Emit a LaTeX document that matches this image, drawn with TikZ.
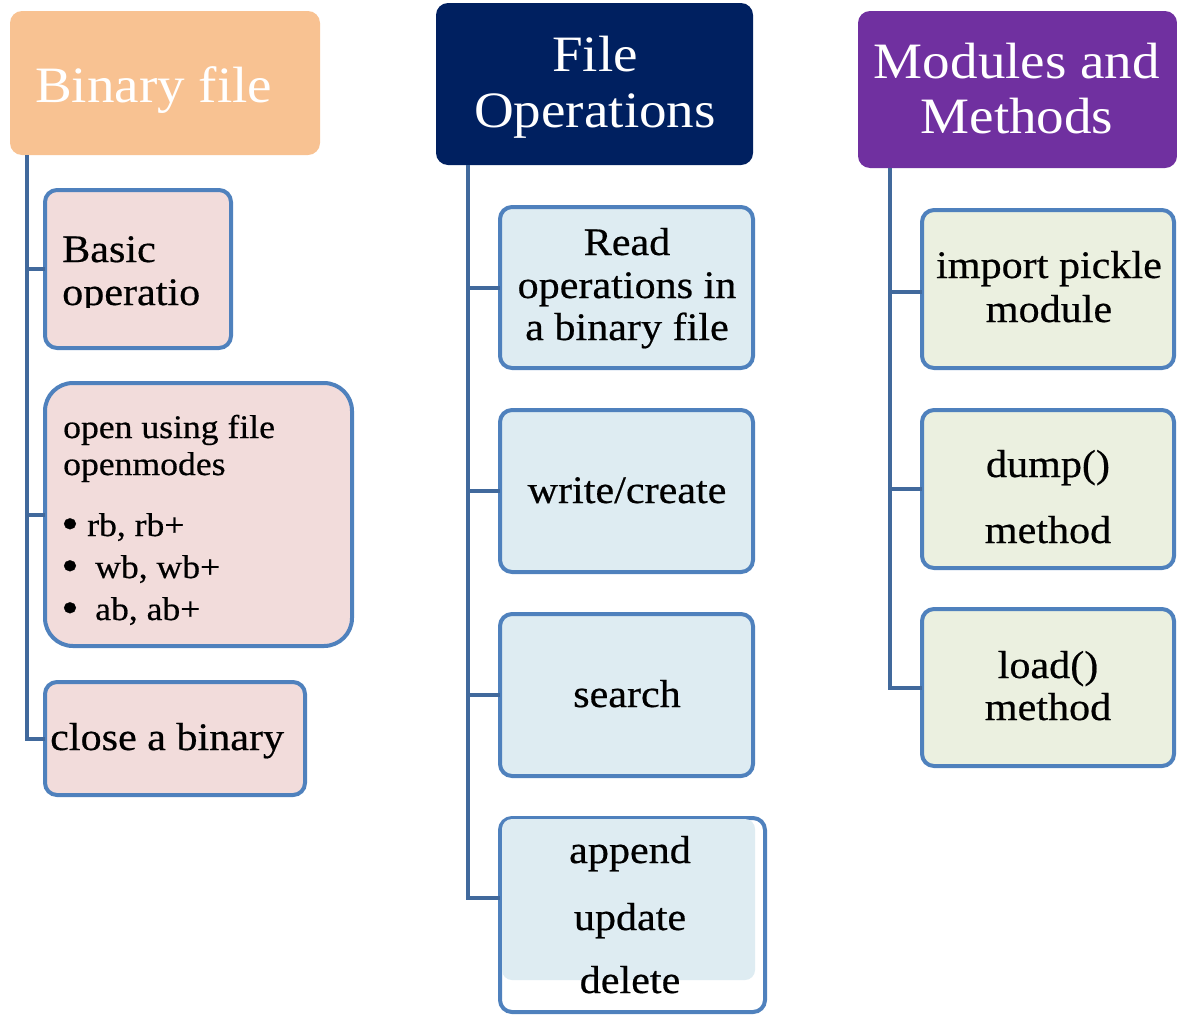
\documentclass[tikz,border=0pt]{standalone}
\usepackage{fontspec}
\setmainfont{Liberation Serif}[FakeStretch=1.08]
\newfontfamily\boxfont{Liberation Serif}[FakeStretch=1.08, FakeBold=0.5]
\definecolor{hdrOrange}{HTML}{F8C292}
\definecolor{hdrNavy}{HTML}{002060}
\definecolor{hdrPurple}{HTML}{7030A0}
\definecolor{fillPink}{HTML}{F2DCDB}
\definecolor{fillBlue}{HTML}{DEECF2}
\definecolor{fillGreen}{HTML}{EBF0E0}
\definecolor{borderBlue}{HTML}{4F81BD}
\definecolor{connBlue}{HTML}{41699C}
\begin{document}
\begin{tikzpicture}[x=1pt,y=-1pt,
  hdr/.style={rounded corners=12pt, inner sep=0pt, outer sep=0pt},
  box/.style={draw=borderBlue, line width=4pt, rounded corners=12pt, inner sep=0pt, outer sep=0pt},
  conn/.style={draw=connBlue, line width=4pt},
  htxt/.style={text=white, inner sep=0pt, font=\fontsize{51}{56}\selectfont},
  btxt/.style={text=black, inner sep=0pt, font=\boxfont\fontsize{39}{43}\selectfont},
  stxt/.style={text=black, inner sep=0pt, font=\boxfont\fontsize{33}{37}\selectfont},
  bultxt/.style={text=black, inner sep=0pt, font=\boxfont\fontsize{46}{50}\selectfont}]
\useasboundingbox (0,0) rectangle (1177,1015);
\clip (0,0) rectangle (1177,1015);

% headers
\node[hdr, fill=hdrOrange, minimum width=310, minimum height=144] (bin) at (165,83) {};
\node[hdr, fill=hdrNavy, minimum width=317, minimum height=162] (fileop) at (594.5,84) {};
\node[hdr, fill=hdrPurple, minimum width=319, minimum height=157] (mod) at (1017.5,89.5) {};

% left column boxes
\node[box, fill=fillPink, minimum width=186, minimum height=158] (basic) at (138,269) {};
\node[box, fill=fillPink, rounded corners=28pt, minimum width=307, minimum height=263] (open) at (198.5,514.5) {};
\node[box, fill=fillPink, minimum width=260, minimum height=113] (close) at (175,738.5) {};

% middle column boxes
\node[box, fill=fillBlue, minimum width=253, minimum height=161] (read) at (626.5,287.5) {};
\node[box, fill=fillBlue, minimum width=253, minimum height=162] (write) at (626.5,491) {};
\node[box, fill=fillBlue, minimum width=253, minimum height=162] (search) at (626.5,695) {};
\node[box, fill=white, minimum width=265, minimum height=194] (append) at (632.5,915) {};
\fill[fillBlue, rounded corners=10pt] (502,819) rectangle (755,980);

% right column boxes
\node[box, fill=fillGreen, minimum width=252, minimum height=158] (import) at (1048,289) {};
\node[box, fill=fillGreen, minimum width=252, minimum height=158] (dump) at (1048,489) {};
\node[box, fill=fillGreen, minimum width=252, minimum height=157] (load) at (1048,687.5) {};

% connectors
\coordinate (lt) at (27,155);
\coordinate (mt) at (468,165);
\coordinate (rt) at (890,168);
\draw[conn] (lt) |- (basic.west);
\draw[conn] (lt) |- (open.west);
\draw[conn] (lt) |- (close.west);
\draw[conn] (mt) |- (read.west);
\draw[conn] (mt) |- (write.west);
\draw[conn] (mt) |- (search.west);
\draw[conn] (mt) |- ([yshift=17pt]append.west);
\draw[conn] (rt) |- ([yshift=-3pt]import.west);
\draw[conn] (rt) |- (dump.west);
\draw[conn] (rt) |- (load.west);

% header texts
\node[htxt, anchor=base west] (tbin) at (35,102) {Binary file};
\node[htxt, anchor=base] (tfile) at (595,71) {File};
\node[htxt, anchor=base] (tops) at (595,127) {Operations};
\node[htxt, anchor=base] (tmod) at (1017,78) {Modules and};
\node[htxt, anchor=base] (tmeth) at (1017,133) {Methods};

% left texts
\node[btxt, anchor=base west] (tbasic) at (62,262) {Basic};
\begin{scope}
\clip (45,190) rectangle (231,307);
\node[btxt, anchor=base west] (toper) at (62,305) {operatio};
\end{scope}
\node[stxt, anchor=base west] (topen1) at (63,438) {open using file};
\node[stxt, anchor=base west] (topen2) at (63,475) {openmodes};
\node[bultxt, anchor=base] (bul1) at (70,539) {•};
\node[bultxt, anchor=base] (bul2) at (70,581) {•};
\node[bultxt, anchor=base] (bul3) at (70,623) {•};
\node[stxt, anchor=base west] (trb) at (87,536) {rb, rb+};
\node[stxt, anchor=base west] (twb) at (95,578) {wb, wb+};
\node[stxt, anchor=base west] (tab) at (95,620) {ab, ab+};
\node[btxt, anchor=base west] (tclose) at (50,750) {close a binary};

% middle texts
\node[btxt, anchor=base] (tread1) at (627,255) {Read};
\node[btxt, anchor=base] (tread2) at (627,298) {operations in};
\node[btxt, anchor=base] (tread3) at (627,340) {a binary file};
\node[btxt, anchor=base] (twrite) at (627,503) {write/create};
\node[btxt, anchor=base] (tsearch) at (627,707) {search};
\node[btxt, anchor=base] (tappend) at (630,863) {append};
\node[btxt, anchor=base] (tupdate) at (630,930) {update};
\node[btxt, anchor=base] (tdelete) at (630,993) {delete};

% right texts
\node[btxt, anchor=base] (timp1) at (1049,278) {import pickle};
\node[btxt, anchor=base] (timp2) at (1049,322) {module};
\node[btxt, anchor=base] (tdump1) at (1048,477) {dump()};
\node[btxt, anchor=base] (tdump2) at (1048,543) {method};
\node[btxt, anchor=base] (tload1) at (1048,678) {load()};
\node[btxt, anchor=base] (tload2) at (1048,720) {method};
\end{tikzpicture}
\end{document}
